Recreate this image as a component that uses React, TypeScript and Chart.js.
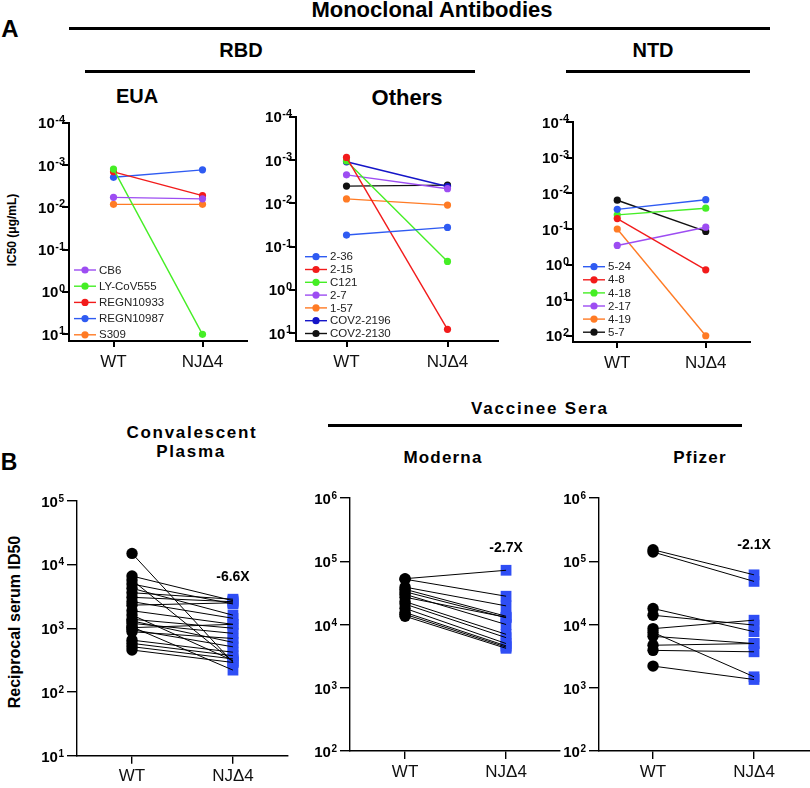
import React, { useEffect, useRef } from "react";
import { Chart, registerables } from "chart.js";

Chart.register(...registerables);

const W = 810;
const H = 788;
const FONT = "'Liberation Sans', Arial, Helvetica, sans-serif";
const SQ_BLUE = "#2f4ef5";

// ---------- data ----------
const groups = ["WT", "NJΔ4"];
const groupX = [0.5, 1.5];

// Monoclonal antibodies, IC50 (µg/mL)
const euaNames = ["CB6", "LY-CoV555", "REGN10933", "REGN10987", "S309"];
const euaWT = [0.0058, 0.00125, 0.00145, 0.00195, 0.0085];
const euaNJ = [0.0063, 10, 0.0053, 0.0013, 0.0085];

const othNames = ["2-36", "2-15", "C121", "2-7", "1-57", "COV2-2196", "COV2-2130"];
const othWT = [0.054, 0.00087, 0.00105, 0.0022, 0.0079, 0.0011, 0.004];
const othNJ = [0.036, 8.1, 0.22, 0.0046, 0.011, 0.0041, 0.0038];

const ntdNames = ["5-24", "4-8", "4-18", "2-17", "4-19", "5-7"];
const ntdWT = [0.028, 0.051, 0.04, 0.29, 0.1, 0.0155];
const ntdNJ = [0.015, 1.4, 0.026, 0.089, 100, 0.117];

// Sera, reciprocal ID50
const convWT = [14900, 6580, 5700, 4930, 4220, 3600, 3050, 2610, 2300, 1880, 1610, 1380, 1300, 1190, 1050, 1020, 950, 880, 650, 578, 513, 455];
const convNJ = [290, 2700, 300, 2400, 1600, 2850, 2600, 1430, 2500, 1150, 310, 1000, 600, 830, 220, 1150, 510, 690, 420, 370, 330, 290];

const modWT = [53000, 52000, 39000, 36000, 33000, 30000, 27000, 23000, 21000, 18000, 15500, 14500, 13500];
const modNJ = [72000, 28000, 19700, 13500, 12800, 10000, 13000, 7000, 6200, 5000, 4600, 4400, 4200];

const pfzWT = [152000, 140000, 17900, 14000, 8600, 7500, 6500, 4700, 3900, 2200];
const pfzNJ = [61000, 48000, 7700, 9800, 11700, 1490, 5000, 5000, 3700, 1350];

const foldLabels = ["-6.6X", "-2.7X", "-2.1X"];

// tick exponents
const expEUA = [-4, -3, -2, -1, 0, 1];
const expNTD = [-4, -3, -2, -1, 0, 1, 2];
const expConv = [1, 2, 3, 4, 5];
const expVax = [2, 3, 4, 5, 6];

// colours
const euaColors = ["#9d4df2", "#45ee25", "#f21b1b", "#2f5bf2", "#ff7b25"];
const othColors = ["#2f5bf2", "#f21b1b", "#45ee25", "#9d4df2", "#ff7b25", "#1515c8", "#111111"];
const ntdColors = ["#2f5bf2", "#f21b1b", "#45ee25", "#9d4df2", "#ff7b25", "#111111"];

// ---------- helpers ----------
function drawSup(ctx: CanvasRenderingContext2D, rightX: number, y: number, exp: number,
  baseSize: number, expSize: number, baseDy: number, expDy: number) {
  const es = exp < 0 ? "-" + Math.abs(exp) : String(exp);
  ctx.textAlign = "right";
  ctx.textBaseline = "alphabetic";
  ctx.font = `bold ${expSize}px ${FONT}`;
  const ew = ctx.measureText(es).width;
  ctx.fillText(es, rightX, y + expDy);
  ctx.font = `bold ${baseSize}px ${FONT}`;
  ctx.fillText("10", rightX - ew - 0.5, y + baseDy);
}

function axis(lw: number, tickLen: number, extra: any) {
  return {
    bounds: "data",
    grid: {
      display: true, drawOnChartArea: false, drawTicks: true,
      tickLength: tickLen, color: "#000", tickColor: "#000", lineWidth: lw, tickWidth: lw,
    },
    border: { display: true, color: "#000", width: lw },
    ticks: { display: false },
    ...extra,
  };
}

type Area = { l: number; t: number; r: number; b: number };

function baseOptions(area: Area, scales: any) {
  return {
    responsive: false,
    animation: false,
    devicePixelRatio: 1,
    events: [],
    layout: {
      autoPadding: false,
      padding: { left: area.l, top: area.t, right: W - area.r, bottom: H - area.b },
    },
    plugins: { legend: { display: false }, tooltip: { enabled: false } },
    scales,
  };
}

function topConfig(spec: {
  names: string[]; wt: number[]; nj: number[]; colors: string[];
  area: Area; yMax: number; exps: number[]; legend: { x: number; y0: number; dy: number };
}) {
  const { names, wt, nj, colors, area, yMax, exps, legend } = spec;
  const datasets = names.map((n, i) => ({
    label: n,
    data: [{ x: groupX[0], y: wt[i] }, { x: groupX[1], y: nj[i] }],
    showLine: true,
    borderColor: colors[i],
    backgroundColor: colors[i],
    pointBackgroundColor: colors[i],
    pointBorderColor: colors[i],
    pointRadius: 3.6,
    pointBorderWidth: 0,
    borderWidth: 1.4,
    clip: false,
  }));
  const deco = {
    id: "deco",
    afterDraw(chart: any) {
      const ctx: CanvasRenderingContext2D = chart.ctx;
      const ys = chart.scales.y;
      const xs = chart.scales.x;
      const { left, bottom } = chart.chartArea;
      ctx.save();
      ctx.fillStyle = "#000";
      exps.forEach((e) => {
        const y = ys.getPixelForValue(Math.pow(10, e));
        drawSup(ctx, left - 4, y, e, 15, 11, 5.5, 0);
      });
      ctx.font = `17px ${FONT}`;
      ctx.textAlign = "center";
      ctx.textBaseline = "middle";
      ctx.fillStyle = "#111";
      groups.forEach((g, i) => ctx.fillText(g, xs.getPixelForValue(groupX[i]), bottom + 21));
      // legend
      names.forEach((n, i) => {
        const y = legend.y0 + i * legend.dy;
        ctx.strokeStyle = colors[i];
        ctx.lineWidth = 1.4;
        ctx.beginPath();
        ctx.moveTo(legend.x, y);
        ctx.lineTo(legend.x + 22, y);
        ctx.stroke();
        ctx.fillStyle = colors[i];
        ctx.beginPath();
        ctx.arc(legend.x + 11, y, 3.6, 0, Math.PI * 2);
        ctx.fill();
        ctx.fillStyle = "#222";
        ctx.font = `11.5px ${FONT}`;
        ctx.textAlign = "left";
        ctx.textBaseline = "middle";
        ctx.fillText(n, legend.x + 25, y + 0.5);
      });
      ctx.restore();
    },
  };
  return {
    type: "scatter",
    data: { datasets },
    options: baseOptions(area, {
      x: axis(2, 6, {
        type: "linear", min: 0, max: 2, position: "bottom",
        afterBuildTicks: (s: any) => { s.ticks = groupX.map((v) => ({ value: v })); },
        afterFit: (s: any) => { s.height = 0; },
      }),
      y: axis(2, 7, {
        type: "logarithmic", reverse: true, min: 1e-4, max: yMax, position: "left",
        afterBuildTicks: (s: any) => { s.ticks = exps.map((e) => ({ value: Math.pow(10, e) })); },
        afterFit: (s: any) => { s.width = 0; },
      }),
    }),
    plugins: [deco],
  };
}

function bottomConfig(spec: {
  wt: number[]; nj: number[]; area: Area; yMin: number; yMax: number; xMin: number; xMax: number;
  exps: number[]; fold: string; foldAt: number;
}) {
  const { wt, nj, area, yMin, yMax, xMin, xMax, exps, fold, foldAt } = spec;
  const lines = wt.map((v, i) => ({
    data: [{ x: groupX[0], y: v }, { x: groupX[1], y: nj[i] }],
    showLine: true,
    borderColor: "#000",
    borderWidth: 1,
    pointRadius: 0,
    clip: false,
  }));
  const wtPts = {
    data: wt.map((v) => ({ x: groupX[0], y: v })),
    showLine: false,
    pointStyle: "circle",
    pointRadius: 5.7,
    pointBackgroundColor: "#000",
    pointBorderColor: "#000",
    pointBorderWidth: 0,
    clip: false,
  };
  const njPts = {
    data: nj.map((v) => ({ x: groupX[1], y: v })),
    showLine: false,
    pointStyle: "rect",
    pointRadius: 7.6,
    pointBackgroundColor: SQ_BLUE,
    pointBorderColor: SQ_BLUE,
    pointBorderWidth: 0,
    clip: false,
  };
  const deco = {
    id: "deco",
    afterDraw(chart: any) {
      const ctx: CanvasRenderingContext2D = chart.ctx;
      const ys = chart.scales.y;
      const xs = chart.scales.x;
      const { left, bottom } = chart.chartArea;
      ctx.save();
      ctx.fillStyle = "#000";
      exps.forEach((e) => {
        const y = ys.getPixelForValue(Math.pow(10, e));
        drawSup(ctx, left - 13, y, e, 15, 10, 6, 1);
      });
      ctx.font = `17px ${FONT}`;
      ctx.textAlign = "center";
      ctx.textBaseline = "middle";
      ctx.fillStyle = "#111";
      groups.forEach((g, i) => ctx.fillText(g, xs.getPixelForValue(groupX[i]), bottom + 21));
      ctx.fillStyle = "#000";
      ctx.font = `bold 14px ${FONT}`;
      ctx.fillText(fold, xs.getPixelForValue(groupX[1]), ys.getPixelForValue(foldAt));
      ctx.restore();
    },
  };
  return {
    type: "scatter",
    data: { datasets: [...lines, wtPts, njPts] },
    options: baseOptions(area, {
      x: axis(1.4, 8, {
        type: "linear", min: xMin, max: xMax, position: "bottom",
        afterBuildTicks: (s: any) => { s.ticks = groupX.map((v) => ({ value: v })); },
        afterFit: (s: any) => { s.height = 0; },
      }),
      y: axis(1.4, 10, {
        type: "logarithmic", min: yMin, max: yMax, position: "left",
        afterBuildTicks: (s: any) => { s.ticks = exps.map((e) => ({ value: Math.pow(10, e) })); },
        afterFit: (s: any) => { s.width = 0; },
      }),
    }),
    plugins: [deco],
  };
}

const configs = [
  () => topConfig({
    names: euaNames, wt: euaWT, nj: euaNJ, colors: euaColors,
    area: { l: 69, t: 122.7, r: 247, b: 341 }, yMax: 14.4, exps: expEUA,
    legend: { x: 74, y0: 270, dy: 16.2 },
  }),
  () => topConfig({
    names: othNames, wt: othWT, nj: othNJ, colors: othColors,
    area: { l: 296, t: 116.7, r: 498, b: 341 }, yMax: 15.1, exps: expEUA,
    legend: { x: 305, y0: 256.7, dy: 12.8 },
  }),
  () => topConfig({
    names: ntdNames, wt: ntdWT, nj: ntdNJ, colors: ntdColors,
    area: { l: 573, t: 122.3, r: 750, b: 342 }, yMax: 150, exps: expNTD,
    legend: { x: 583, y0: 266.7, dy: 13.1 },
  }),
  () => bottomConfig({
    wt: convWT, nj: convNJ, area: { l: 77, t: 500.7, r: 288, b: 755.7 },
    yMin: 10, yMax: 1e5, xMin: -0.045, xMax: 2.045, exps: expConv, fold: foldLabels[0], foldAt: 6300,
  }),
  () => bottomConfig({
    wt: modWT, nj: modNJ, area: { l: 350, t: 498, r: 560, b: 751 },
    yMin: 100, yMax: 1e6, xMin: -0.045, xMax: 2.034, exps: expVax, fold: foldLabels[1], foldAt: 164000,
  }),
  () => bottomConfig({
    wt: pfzWT, nj: pfzNJ, area: { l: 599, t: 498, r: 810, b: 751 },
    yMin: 100, yMax: 1e6, xMin: -0.035, xMax: 2.054, exps: expVax, fold: foldLabels[2], foldAt: 181000,
  }),
];

function ChartLayer({ make }: { make: () => any }) {
  const ref = useRef<HTMLCanvasElement>(null);
  useEffect(() => {
    const chart = new Chart(ref.current as HTMLCanvasElement, make() as any);
    return () => chart.destroy();
  }, [make]);
  return (
    <canvas
      ref={ref}
      width={W}
      height={H}
      style={{ position: "absolute", left: 0, top: 0, width: W, height: H, pointerEvents: "none" }}
    />
  );
}

function Txt({ x, y, size, text, spacing = 0, rotate = false, weight = 700 }:
  { x: number; y: number; size: number; text: string; spacing?: number; rotate?: boolean; weight?: number }) {
  return (
    <div
      style={{
        position: "absolute", left: x, top: y,
        transform: `translate(-50%, -50%)${rotate ? " rotate(-90deg)" : ""}`,
        font: `${weight} ${size}px ${FONT}`, letterSpacing: spacing, whiteSpace: "nowrap",
        lineHeight: 1, color: "#000",
      }}
    >
      {text}
    </div>
  );
}

function HLine({ x1, x2, y, w = 3 }: { x1: number; x2: number; y: number; w?: number }) {
  return <div style={{ position: "absolute", left: x1, top: y - w / 2, width: x2 - x1, height: w, background: "#000" }} />;
}

export default function App() {
  return (
    <div style={{ position: "absolute", left: 0, top: 0, width: W, height: H, background: "#fff", overflow: "hidden" }}>
      <Txt x={10} y={29} size={24} text="A" />
      <Txt x={432} y={10} size={22} text="Monoclonal Antibodies" />
      <HLine x1={69} x2={770} y={28.5} />
      <Txt x={241} y={50} size={20} text="RBD" />
      <HLine x1={85} x2={475} y={71} />
      <Txt x={653} y={50} size={20} text="NTD" />
      <HLine x1={566} x2={750} y={71} />
      <Txt x={137} y={96} size={20} text="EUA" />
      <Txt x={407} y={98} size={22} text="Others" />
      <Txt x={12} y={230} size={12} text="IC50 (μg/mL)" rotate />

      <Txt x={9} y={462} size={23} text="B" />
      <Txt x={192} y={432} size={17} text="Convalescent" spacing={1.7} />
      <Txt x={191} y={451} size={17} text="Plasma" spacing={1.7} />
      <Txt x={540} y={408} size={17} text="Vaccinee Sera" spacing={1.8} />
      <HLine x1={328} x2={742} y={425} />
      <Txt x={443} y={457} size={17} text="Moderna" spacing={1.2} />
      <Txt x={700} y={457} size={17} text="Pfizer" spacing={1.2} />
      <Txt x={15} y={622} size={16} text="Reciprocal serum ID50" rotate />

      {configs.map((make, i) => (
        <ChartLayer key={i} make={make} />
      ))}
    </div>
  );
}
